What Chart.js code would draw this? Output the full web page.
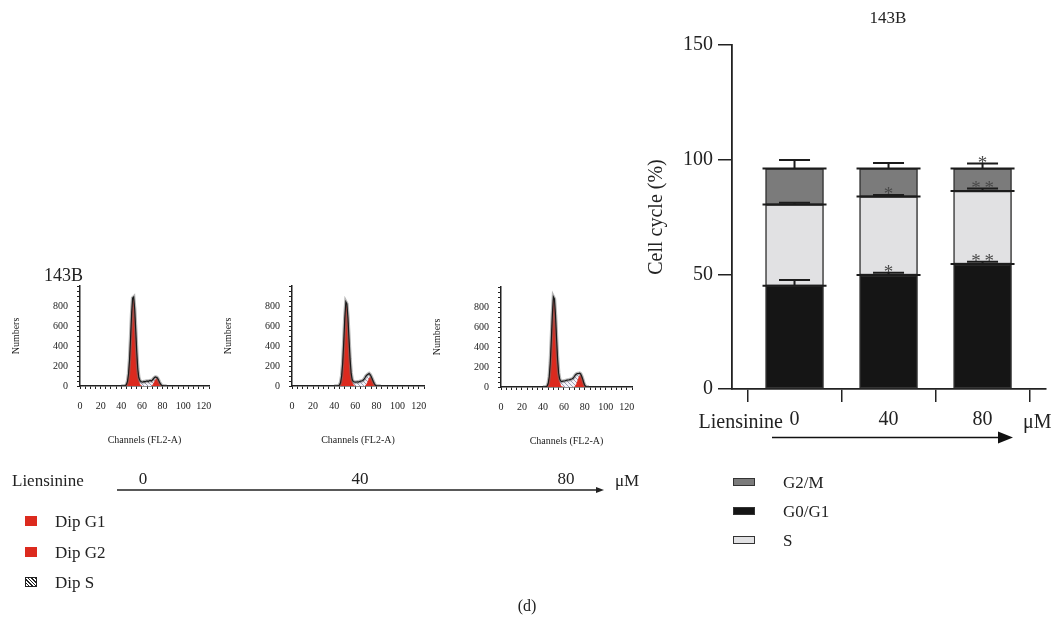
<!DOCTYPE html>
<html><head><meta charset="utf-8">
<script src="https://cdn.jsdelivr.net/npm/chart.js@4"></script>
<style>
body{margin:0;width:1054px;height:635px;background:#fff;position:relative;overflow:hidden;font-family:"Liberation Serif",serif;color:#222}
.t{position:absolute;white-space:nowrap;line-height:1}
.c{transform:translate(-50%,-50%)}
.l{transform:translateY(-50%)}
.r{transform:translate(-100%,-50%)}
canvas{position:absolute}
svg{position:absolute;left:0;top:0}
.box{position:absolute;box-sizing:border-box}
</style></head><body>

<canvas id="h0" width="220" height="180" style="left:0px;top:270px"></canvas>
<canvas id="h1" width="223" height="180" style="left:212px;top:270px"></canvas>
<canvas id="h2" width="222" height="180" style="left:421px;top:271px"></canvas>
<canvas id="bars" width="414" height="460" style="left:640px;top:0px"></canvas>

<svg width="1054" height="635">
  <line x1="117" y1="490" x2="598" y2="490" stroke="#222" stroke-width="1.3"/>
  <polygon points="604,490 596,487 596,493" fill="#222"/>
  <line x1="772" y1="437.5" x2="1000" y2="437.5" stroke="#111" stroke-width="1.6"/>
  <polygon points="1013,437.5 998,431.5 998,443.5" fill="#111"/>
</svg>

<div class="t l" style="left:44px;top:275px;font-size:18px">143B</div>
<div class="t c" style="left:888px;top:17px;font-size:17px">143B</div>
<div class="t r" style="left:783px;top:421px;font-size:20px">Liensinine</div>
<div class="t l" style="left:1023px;top:421px;font-size:20px">μM</div>

<div class="t l" style="left:12px;top:480px;font-size:17px">Liensinine</div>
<div class="t c" style="left:143px;top:478px;font-size:17px">0</div>
<div class="t c" style="left:360px;top:478px;font-size:17px">40</div>
<div class="t c" style="left:566px;top:478px;font-size:17px">80</div>
<div class="t l" style="left:615px;top:480px;font-size:17px">μM</div>

<div id="legL"></div>
<div id="legR"></div>
<div class="t c" style="left:527px;top:606px;font-size:16px">(d)</div>

<script>
// ---------------- DATA ----------------
// Flow cytometry histograms (Channels FL2-A vs Numbers), one per dose
const doses = ['0', '40', '80'];
const channels = [40,41,42,43,44,45,46,47,48,49,50,51,52,53,54,55,56,57,58,59,60,61,62,63,64,65,66,67,68,69,70,71,72,73,74,75,76,77,78,79,80,81,82,83,84];
const g1Channels = [43,44,45,46,47,48,49,50,51,52,53,54,55,56,57,58,59,60];
const g2Channels = [69,70,71,72,73,74,75,76,77,78,79,80,81,82];

const total0 = [0,0,0,2,5,15,45,120,260,480,720,880,890,770,560,340,170,85,55,45,42,40,45,42,48,50,45,52,55,50,58,70,82,90,88,80,62,40,20,8,3,0,0,0,0];
const dipG1_0 = [0,3,12,40,112,250,470,705,860,870,745,530,310,140,55,18,5,0];
const dipG2_0 = [0,5,18,40,60,74,72,56,35,16,5,0,0,0];

const total40 = [0,0,0,0,3,10,35,100,230,440,680,840,820,680,470,270,130,65,45,40,38,40,42,40,45,48,50,55,65,80,100,110,118,125,115,95,70,45,22,8,2,0,0,0,0];
const dipG1_40 = [0,2,8,32,95,220,425,660,815,795,655,445,245,105,40,12,3,0];
const dipG2_40 = [0,8,25,50,75,90,88,68,42,18,5,0,0,0];

const total80 = [0,0,0,3,10,35,100,240,470,720,900,880,720,490,280,140,80,60,55,58,60,62,65,68,70,72,75,78,82,90,105,120,130,135,135,138,130,108,78,42,16,5,0,0,0];
const dipG1_80 = [2,8,30,92,228,455,700,880,860,700,470,260,120,50,15,4,0,0];
const dipG2_80 = [0,0,10,30,60,90,112,120,105,75,40,15,4,0];

// Stacked bar chart: cell cycle distribution (%)
const barCategories = [0, 1, 2];
const barTickLabels = ['0', '40', '80'];
const g0g1 = [45.0, 49.7, 54.5];
const sPhase = [35.4, 34.2, 31.8];
const g2m = [15.7, 12.2, 9.8];
const g0g1Err = [2.5, 1.0, 1.0];
const sErr = [0.8, 0.7, 1.1];
const g2mErr = [3.8, 2.5, 2.2];
const g0g1Sig = ['', '*', '**'];
const sSig = ['', '*', '**'];
const g2mSig = ['', '', '*'];

// ---------------- STYLE ----------------
const FONT = "'Liberation Serif', serif";
const RED = '#dc2a1e';
const INK = '#222';

function hatch(color, bg){
  const c = document.createElement('canvas');
  c.width = 4; c.height = 4;
  const x = c.getContext('2d');
  if (bg){ x.fillStyle = bg; x.fillRect(0,0,4,4); }
  x.strokeStyle = color; x.lineWidth = 0.8;
  x.beginPath(); x.moveTo(0,0); x.lineTo(4,4); x.moveTo(-1,3); x.lineTo(1,5); x.moveTo(3,-1); x.lineTo(5,1); x.stroke();
  return x.createPattern(c, 'repeat');
}

const pts = (xs, ys) => xs.map((x, i) => ({x, y: ys[i]}));

function makeHist(id, total, g1, g2){
  const ctx = document.getElementById(id).getContext('2d');
  return new Chart(ctx, {
    type: 'line',
    data: { datasets: [
      { data: pts(channels, total), borderColor: '#1a1a1a', borderWidth: 1.2, pointRadius: 0, fill: false, order: 0, tension: 0 },
      { data: pts(channels, total), borderColor: 'rgba(110,110,110,0.5)', borderWidth: 3.5, pointRadius: 0, fill: false, order: 1, tension: 0 },
      { data: pts(g1Channels, g1), borderColor: RED, borderWidth: 0.5, backgroundColor: RED, pointRadius: 0, fill: 'origin', order: 2, tension: 0 },
      { data: pts(g2Channels, g2), borderColor: RED, borderWidth: 0.5, backgroundColor: RED, pointRadius: 0, fill: 'origin', order: 3, tension: 0 },
      { data: pts(channels, total), borderWidth: 0, backgroundColor: hatch('#8d8aa6', '#f4f3f8'), pointRadius: 0, fill: 'origin', order: 4, tension: 0 }
    ]},
    options: {
      responsive: false, animation: false,
      layout: { padding: { top: 16, right: 11, left: 0, bottom: 0 } },
      plugins: { legend: { display: false }, tooltip: { enabled: false } },
      scales: {
        x: {
          type: 'linear', min: 0, max: 125,
          afterFit: s => { s.height = 64; },
          ticks: { stepSize: 5, autoSkip: false, maxRotation: 0, padding: 11, color: INK,
                   font: { family: FONT, size: 10 },
                   callback: v => (v % 20 === 0 && v <= 120) ? String(v) : '' },
          grid: { drawOnChartArea: false, drawTicks: true, tickLength: 3, color: INK, lineWidth: 1 },
          border: { display: true, color: INK, width: 1.5 },
          title: { display: true, text: 'Channels (FL2-A)', color: INK, font: { family: FONT, size: 10 }, padding: { top: 0, bottom: 4 } }
        },
        y: {
          min: 0, max: 1000,
          afterFit: s => { s.width = 80; },
          ticks: { stepSize: 50, autoSkip: false, padding: 9, color: INK,
                   font: { family: FONT, size: 10 },
                   callback: v => (v % 200 === 0 && v <= 800) ? String(v) : '' },
          grid: { drawOnChartArea: false, drawTicks: true, tickLength: 3, color: INK, lineWidth: 1 },
          border: { display: true, color: INK, width: 1.5 },
          title: { display: true, text: 'Numbers', color: INK, font: { family: FONT, size: 10 }, padding: { top: 10, bottom: 0 } }
        }
      }
    }
  });
}

makeHist('h0', total0, dipG1_0, dipG2_0);
makeHist('h1', total40, dipG1_40, dipG2_40);
makeHist('h2', total80, dipG1_80, dipG2_80);

// ---------------- BAR CHART ----------------
const barColors = { g0g1: '#151515', s: '#e1e1e3', g2m: '#7b7b7b' };
const errSets = [g0g1Err, sErr, g2mErr];
const sigSets = [g0g1Sig, sSig, g2mSig];

const errorBarPlugin = {
  id: 'errs',
  afterDatasetsDraw(chart){
    const {ctx, scales:{y}} = chart;
    ctx.save();
    chart.data.datasets.forEach((ds, di) => {
      const meta = chart.getDatasetMeta(di);
      meta.data.forEach((bar, j) => {
        const p = bar.getProps(['x','y','width'], true);
        ctx.strokeStyle = '#1c1c1c'; ctx.lineWidth = 2;
        ctx.beginPath(); ctx.moveTo(p.x - p.width/2 - 3, p.y); ctx.lineTo(p.x + p.width/2 + 3, p.y); ctx.stroke();
        let cum = 0;
        for (let k = 0; k <= di; k++) cum += chart.data.datasets[k].data[j].y;
        const yTop = y.getPixelForValue(cum + errSets[di][j]);
        ctx.beginPath();
        ctx.moveTo(p.x, p.y); ctx.lineTo(p.x, yTop);
        ctx.moveTo(p.x - 15.5, yTop); ctx.lineTo(p.x + 15.5, yTop);
        ctx.stroke();
        const sig = sigSets[di][j];
        if (sig){
          ctx.fillStyle = '#4a4a4a';
          ctx.font = "19px " + FONT;
          ctx.textAlign = 'center'; ctx.textBaseline = 'alphabetic';
          ctx.fillText(sig.split('').join('\u2009'), p.x, yTop + 5);
        }
      });
    });
    ctx.restore();
  }
};

const mk = arr => barCategories.map((c, i) => ({x: c, y: arr[i]}));
new Chart(document.getElementById('bars').getContext('2d'), {
  type: 'bar',
  data: { datasets: [
    { label: 'G0/G1', data: mk(g0g1), backgroundColor: barColors.g0g1, borderColor: '#333', borderWidth: 1.5, borderSkipped: false, barThickness: 58 },
    { label: 'S', data: mk(sPhase), backgroundColor: barColors.s, borderColor: '#333', borderWidth: 1.5, borderSkipped: false, barThickness: 58 },
    { label: 'G2/M', data: mk(g2m), backgroundColor: barColors.g2m, borderColor: '#333', borderWidth: 1.5, borderSkipped: false, barThickness: 58 }
  ]},
  options: {
    responsive: false, animation: false,
    layout: { padding: { top: 45, right: 8, left: 0, bottom: 0 } },
    plugins: { legend: { display: false }, tooltip: { enabled: false } },
    scales: {
      x: {
        type: 'linear', stacked: true, offset: false, min: -0.665, max: 2.675,
        afterFit: s => { s.height = 71; },
        afterBuildTicks: s => { s.ticks = barCategories.map(v => ({value: v})); },
        ticks: { autoSkip: false, maxRotation: 0, padding: 6, color: INK, font: { family: FONT, size: 20 },
                 callback: v => barTickLabels[barCategories.indexOf(v)] ?? '' },
        grid: { drawOnChartArea: false, drawTicks: true, tickLength: 13, color: INK, lineWidth: 1.5 },
        border: { display: true, color: INK, width: 1.8 }
      },
      y: {
        stacked: true, min: 0, max: 150,
        afterFit: s => { s.width = 92; },
        ticks: { stepSize: 50, padding: 5, color: INK, font: { family: FONT, size: 20 } },
        grid: { drawOnChartArea: false, drawTicks: true, tickLength: 14, color: INK, lineWidth: 1.5 },
        border: { display: true, color: INK, width: 1.8 },
        title: { display: true, text: 'Cell cycle (%)', color: INK, font: { family: FONT, size: 20 }, padding: { top: 5, bottom: 0 } }
      }
    }
  },
  plugins: [errorBarPlugin]
});

// ---------------- LEGENDS (HTML) ----------------
const legR = [['G2/M', barColors.g2m, 482], ['G0/G1', barColors.g0g1, 511], ['S', barColors.s, 540]];
document.getElementById('legR').innerHTML = legR.map(([t, c, y]) =>
  `<div class="box" style="left:733px;top:${y-4}px;width:22px;height:8px;background:${c};border:1.3px solid #333"></div>` +
  `<div class="t l" style="left:783px;top:${y}px;font-size:17px">${t}</div>`).join('');

const hatchCss = 'repeating-linear-gradient(45deg,#fff 0 1.5px,#222 1.5px 2.5px)';
const legL = [['Dip G1', RED, 521], ['Dip G2', RED, 552], ['Dip S', hatchCss, 582]];
document.getElementById('legL').innerHTML = legL.map(([t, c, y], i) =>
  `<div class="box" style="left:25px;top:${y-5}px;width:12px;height:10px;background:${c};${i===2?'border:1px solid #222;':''}"></div>` +
  `<div class="t l" style="left:55px;top:${y}px;font-size:17px">${t}</div>`).join('');
</script>
</body></html>
